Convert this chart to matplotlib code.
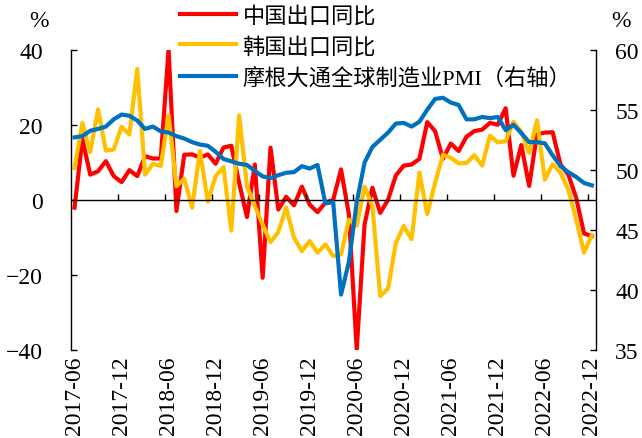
import numpy as np
import matplotlib.pyplot as plt

plt.rcParams['font.family'] = ['Liberation Serif', 'Noto Sans CJK SC']

# 月度数据：2017-06 至 2022-12
china_export = [-2.1, 16.1, 6.7, 7.6, 10.3, 6.3, 4.7, 7.9, 6.3, 11.6, 11.0, 11.0,
                40.0, -3.0, 12.0, 12.1, 11.2, 12.1, 9.6, 13.9, 14.4, 4.5, -4.6, 9.4,
                -20.8, 13.9, -2.6, 0.8, -1.5, 3.5, -1.3, -3.3, -0.8, 0.0, 8.1, -3.9,
                -40.0, -6.6, 3.2, -3.5, 0.0, 6.5, 9.1, 9.4, 10.9, 20.7, 18.3, 10.9,
                15.0, 13.0, 16.8, 18.3, 18.7, 20.5, 20.0, 24.4, 6.4, 14.6, 3.7, 17.5,
                17.9, 18.0, 9.4, 6.7, 0.5, -9.0, -9.7]
korea_export = [8.5, 20.5, 12.7, 24.1, 13.1, 13.4, 19.5, 17.4, 34.9, 6.7, 9.6, 9.0,
                22.5, 3.6, 5.6, -2.1, 13.0, -0.5, 6.3, 8.7, -8.2, 22.5, 3.6, -1.7,
                -6.6, -11.3, -8.6, -2.1, -10.1, -13.7, -11.0, -14.1, -11.9, -15.0, -14.6, -5.3,
                -6.9, 3.5, -1.7, -25.7, -23.7, -11.5, -7.0, -10.5, 7.2, -3.8, 4.5, 12.0,
                11.2, 9.7, 9.8, 11.9, 9.1, 17.1, 15.3, 15.6, 20.8, 18.1, 12.5, 21.2,
                5.4, 9.5, 7.2, 2.7, -5.3, -14.1, -9.4]
global_pmi = [52.7, 52.8, 53.25, 53.4, 53.6, 54.2, 54.6, 54.5, 54.1, 53.4, 53.6, 53.2,
              53.1, 52.8, 52.6, 52.3, 52.1, 52.0, 51.5, 50.9, 50.7, 50.5, 50.4, 49.9,
              49.45, 49.3, 49.55, 49.75, 49.8, 50.3, 50.1, 50.4, 47.2, 47.3, 39.6, 42.3,
              47.3, 50.6, 51.9, 52.5, 53.1, 53.85, 53.9, 53.6, 54.0, 55.0, 55.9, 56.0,
              55.6, 55.4, 54.2, 54.2, 54.4, 54.3, 54.4, 53.3, 53.75, 53.05, 52.3, 52.3,
              52.2, 51.2, 50.3, 49.8, 49.4, 48.9, 48.7]
date_labels = ['2017-06', '2017-12', '2018-06', '2018-12', '2019-06', '2019-12',
               '2020-06', '2020-12', '2021-06', '2021-12', '2022-06', '2022-12']

x = np.arange(len(china_export))

fig = plt.figure(figsize=(6.42, 4.39), dpi=100)
ax = fig.add_axes([0.110, 0.201, 0.818, 0.6834])
l1, = ax.plot(x, china_export, color='#FF0000', lw=3, label='中国出口同比')
l2, = ax.plot(x, korea_export, color='#FFC000', lw=3, label='韩国出口同比')
ax2 = ax.twinx()
l3, = ax2.plot(x, global_pmi, color='#0070C0', lw=3, label='摩根大通全球制造业PMI（右轴）')

ax.set_xlim(-0.5, len(x) - 0.5)
ax.set_ylim(-40, 40)
ax2.set_ylim(35, 60)
ax.set_yticks([-40, -20, 0, 20, 40])
ax2.set_yticks(range(35, 61, 5))

for a in (ax, ax2):
    a.spines['top'].set_visible(False)
    a.spines['bottom'].set_visible(False)
ax.spines['right'].set_visible(False)
ax2.spines['left'].set_visible(False)
ax.spines['left'].set_linewidth(1)
ax2.spines['right'].set_linewidth(1)

# 零轴及向上的刻度线
ax.axhline(0, color='black', lw=1)
ax.vlines(np.arange(6, len(x), 6) - 0.5, 0, 1.6, color='black', lw=1)

ax.set_xticks(np.arange(0, len(x), 6))
ax.set_xticklabels(date_labels, rotation=90)
ax.tick_params(axis='x', length=0, pad=4, labelsize=17)
ax.tick_params(axis='y', direction='in', length=4, width=1, pad=20, labelsize=17)
ax2.tick_params(axis='y', direction='in', length=4, width=1, pad=14, labelsize=17)

fig.text(0.060, 0.952, '%', fontsize=17, ha='center', va='center')
fig.text(0.968, 0.952, '%', fontsize=17, ha='center', va='center')

fig.legend([l1, l2, l3], [l1.get_label(), l2.get_label(), l3.get_label()],
           loc='upper left', bbox_to_anchor=(0.281, 0.985), frameon=False,
           fontsize=16, handlelength=2.5, handletextpad=0.3, labelspacing=0.45,
           borderaxespad=0, borderpad=0)

fig.savefig('out.png', dpi=100)
